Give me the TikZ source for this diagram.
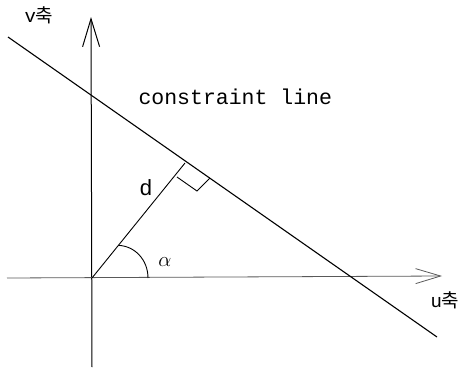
\documentclass[tikz,border=0pt]{standalone}
\usepackage{fontspec}
\setmonofont{Liberation Mono}
\setsansfont{Liberation Sans}
\newfontfamily\krfont{Noto Sans CJK KR}
\usepackage{tikz}
\usetikzlibrary{arrows.meta,calc}

\begin{document}
\begin{tikzpicture}[
    x=1pt, y=-1pt,
    axis/.style={line width=1pt, black},
    faint axis/.style={line width=0.8pt, black!65},
    cline/.style={line width=1.1pt, black},
    thin line/.style={line width=0.9pt, black},
    axis label/.style={inner sep=0pt, font=\ttfamily\fontsize{19}{19}\selectfont}
]

% Frame
\useasboundingbox (0,0) rectangle (464,368);

% Points
\coordinate (O) at (92,278);
\coordinate (vbot) at (92,367);
\coordinate (vtop) at (91,17);
\coordinate (uleft) at (7,278);
\coordinate (uright) at (442,276);
\coordinate (cstart) at (8,37);
\coordinate (cend) at (437,337);
\coordinate (F) at (185,163);

% Axes
\draw [axis, -{Straight Barb[length=28pt, width=17pt]}] (vbot) -- (vtop);
\draw [faint axis, -{Straight Barb[length=25pt, width=15pt]}] (uleft) -- (uright);
\node (vlabel) at (39,15) [axis label] {v\krfont 축};
\node (ulabel) at (445,300) [axis label] {u\krfont 축};

% Constraint line
\draw [cline] (cstart) -- (cend);
\node (ctext) at (135,97) [anchor=west, font=\ttfamily\fontsize{21.5}{22}\selectfont] {constraint line};

% Distance d, right angle mark
\draw [thin line] (O) -- (F);
\coordinate (m1) at (177,177);
\coordinate (m2) at (197,191);
\coordinate (m3) at (210,178);
\draw [thin line] (m1) -- (m2) -- (m3);
\node (dlabel) at (146,188) [font=\sffamily\fontsize{22}{22}\selectfont] {d};

% Angle alpha
\coordinate (a1) at ($(O)!0.284!(F)$);
\coordinate (a2) at (148,278);
\draw [thin line] (a1) .. controls (135,246) and (148,260) .. (a2);
\node (alabel) at (165,262) [font=\fontsize{20}{20}\selectfont] {$\alpha$};

\end{tikzpicture}
\end{document}
